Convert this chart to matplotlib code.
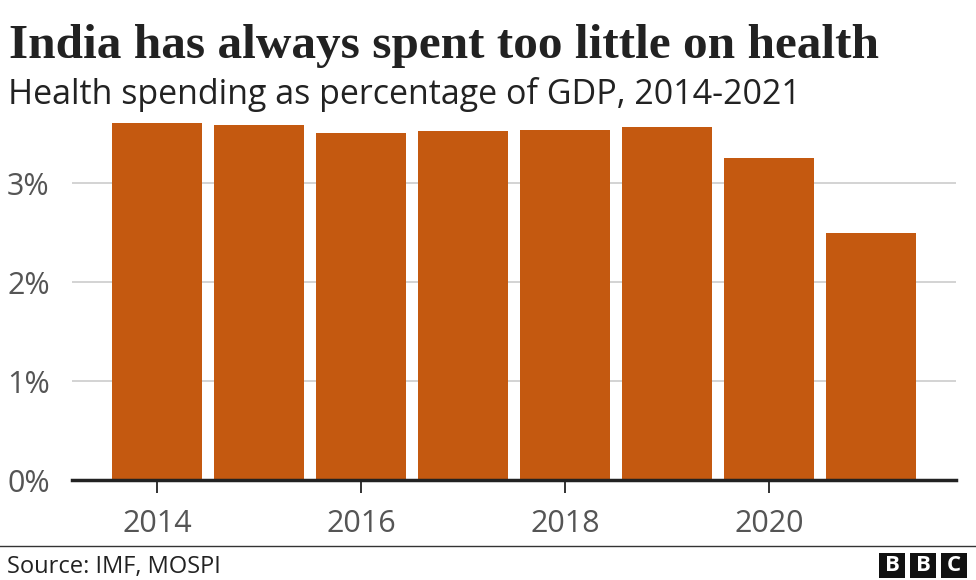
import matplotlib.pyplot as plt
from matplotlib.patches import Rectangle

# Data
years = [2014, 2015, 2016, 2017, 2018, 2019, 2020, 2021]
spending = [3.61, 3.59, 3.51, 3.53, 3.54, 3.57, 3.26, 2.50]
xticks = [2014, 2016, 2018, 2020]
yticks = [0, 1, 2, 3]
ytick_labels = ['0%', '1%', '2%', '3%']

bar_color = '#c45910'
grey = '#555555'

fig = plt.figure(figsize=(9.76, 5.8), dpi=100)
ax = fig.add_axes([72 / 976, 1 - 480 / 580, (956 - 72) / 976, (480 - 119) / 580])

ax.bar(years, spending, width=0.89, color=bar_color, zorder=2)

ax.set_xlim(2013.167, 2021.833)
ax.set_ylim(0, 3.65)
ax.set_xticks(xticks)
ax.set_xticklabels([str(y) for y in xticks])
ax.set_yticks(yticks)
ax.set_yticklabels(ytick_labels)

ax.grid(axis='y', color='#cccccc', linewidth=1.2, zorder=0)
for s in ['top', 'right', 'left']:
    ax.spines[s].set_visible(False)
ax.spines['bottom'].set_linewidth(2.5)
ax.spines['bottom'].set_color('#222222')
ax.spines['bottom'].set_zorder(3)

ax.tick_params(axis='y', length=0, pad=16, labelsize=22, labelcolor=grey)
ax.tick_params(axis='x', length=9, width=1.3, color='#222222', pad=12,
               labelsize=22, labelcolor=grey)
for lab in ax.get_xticklabels() + ax.get_yticklabels():
    lab.set_fontfamily('Open Sans')

# Titles
fig.text(9 / 976, 1 - 58 / 580, 'India has always spent too little on health',
         fontsize=35.5, fontweight='bold', family='Liberation Serif',
         color='#222222', va='baseline')
fig.text(8 / 976, 1 - 104 / 580, 'Health spending as percentage of GDP, 2014-2021',
         fontsize=24.5, family='Open Sans', color='#222222', va='baseline')

# Footer
fig.add_artist(plt.Line2D([0, 1], [1 - 546 / 580] * 2, color='#333333', linewidth=1))
fig.text(7 / 976, 1 - 573 / 580, 'Source: IMF, MOSPI', fontsize=17,
         family='Open Sans', color='#222222', va='baseline')

# BBC logo
for i, letter in enumerate('BBC'):
    x0 = 879 + i * 31
    fig.add_artist(Rectangle((x0 / 976, 1 - 578 / 580), 26 / 976, 25 / 580,
                             facecolor='#111111', edgecolor='none',
                             transform=fig.transFigure))
    fig.text((x0 + 13) / 976, 1 - 565.5 / 580, letter, color='white',
             fontsize=16, fontweight='bold', family='Open Sans',
             ha='center', va='center')

plt.savefig('out.png', dpi=100)
